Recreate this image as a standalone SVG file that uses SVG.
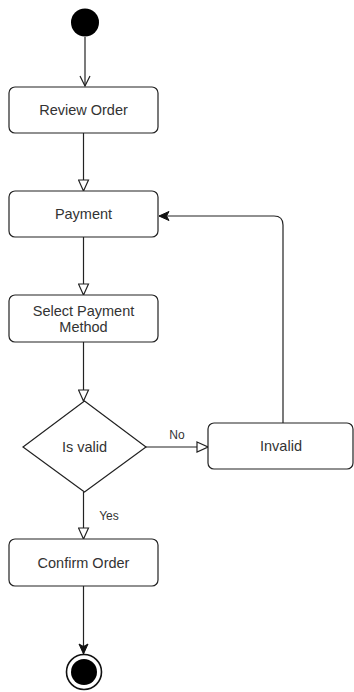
<svg xmlns="http://www.w3.org/2000/svg" width="354" height="692" viewBox="0 0 354 692">
  <style>
    .box { fill: #ffffff; stroke: #222222; stroke-width: 1.2; }
    .lbl { font-family: "Liberation Sans", Arial, sans-serif; font-size: 14.5px; fill: #333333; text-anchor: middle; dominant-baseline: central; }
    .elbl { font-family: "Liberation Sans", Arial, sans-serif; font-size: 12px; fill: #333333; text-anchor: middle; dominant-baseline: central; }
    .edge { fill: none; stroke: #222222; stroke-width: 1.2; }
  </style>
  <defs>
    <marker id="open" viewBox="0 0 12 12" markerWidth="12" markerHeight="12" markerUnits="userSpaceOnUse" refX="11" refY="6" orient="auto">
      <path d="M1,1 L11,6 L1,11" fill="none" stroke="#222222" stroke-width="1.2"/>
    </marker>
    <marker id="hollow" viewBox="0 0 13 12" markerWidth="13" markerHeight="12" markerUnits="userSpaceOnUse" refX="12" refY="6" orient="auto">
      <path d="M1,1 L12,6 L1,11 Z" fill="#ffffff" stroke="#222222" stroke-width="1.2"/>
    </marker>
    <marker id="filled" viewBox="0 0 12 12" markerWidth="12" markerHeight="12" markerUnits="userSpaceOnUse" refX="11" refY="6" orient="auto">
      <path d="M1,1.5 L11,6 L1,10.5 L3.5,6 Z" fill="#111111" stroke="#111111" stroke-width="1"/>
    </marker>
  </defs>

  <g id="connectors">
    <path class="edge" d="M85,37 L85,86" marker-end="url(#open)"/>
    <path class="edge" d="M83.5,133 L83.5,191" stroke-width="1.6" marker-end="url(#hollow)"/>
    <path class="edge" d="M83.5,237 L83.5,295" marker-end="url(#hollow)"/>
    <path class="edge" d="M83.5,342 L83.5,401" marker-end="url(#hollow)"/>
    <path class="edge" d="M146,447 L208,447" marker-end="url(#hollow)"/>
    <path class="edge" d="M83.5,492 L83.5,539" marker-end="url(#hollow)"/>
    <path class="edge" d="M283,423 L283,225 Q283,216 274,216 L159,216" marker-end="url(#filled)"/>
    <path class="edge" d="M83.5,586 L83.5,654" marker-end="url(#filled)"/>
    <text class="elbl" x="177" y="435">No</text>
    <text class="elbl" x="109" y="516">Yes</text>
  </g>

  <g id="start">
    <circle cx="85" cy="22.5" r="14" fill="#000000"/>
  </g>

  <g id="review-order">
    <rect class="box" x="9" y="87" width="149" height="46" rx="6"/>
    <text class="lbl" x="83.5" y="110">Review Order</text>
  </g>

  <g id="payment">
    <rect class="box" x="9" y="191" width="149" height="46" rx="6"/>
    <text class="lbl" x="83.5" y="214">Payment</text>
  </g>

  <g id="select-payment-method">
    <rect class="box" x="9" y="295" width="149" height="47" rx="6"/>
    <text class="lbl" x="83.5" y="311">Select Payment</text>
    <text class="lbl" x="83.5" y="327">Method</text>
  </g>

  <g id="is-valid">
    <polygon class="box" points="84.5,401 146,447 84.5,492 23,447"/>
    <text class="lbl" x="84.5" y="447">Is valid</text>
  </g>

  <g id="invalid">
    <rect class="box" x="208" y="423" width="145" height="46" rx="6"/>
    <text class="lbl" x="281" y="446">Invalid</text>
  </g>

  <g id="confirm-order">
    <rect class="box" x="9" y="539" width="149" height="47" rx="6"/>
    <text class="lbl" x="83.5" y="563">Confirm Order</text>
  </g>

  <g id="end">
    <circle cx="84" cy="672" r="17.5" fill="#ffffff" stroke="#111111" stroke-width="1.6"/>
    <circle cx="84" cy="672" r="13" fill="#000000"/>
  </g>
</svg>
